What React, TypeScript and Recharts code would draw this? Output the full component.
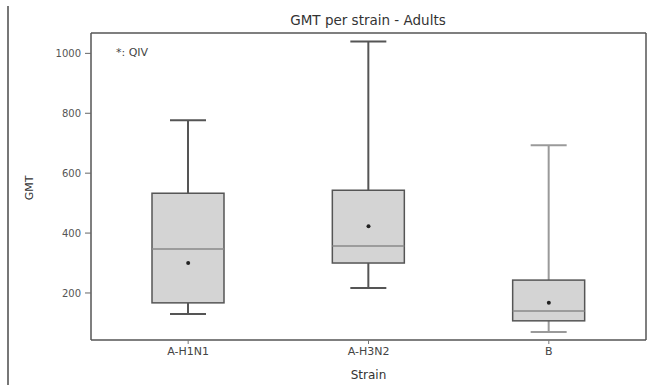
import React from 'react';
import { ComposedChart, Bar, XAxis, YAxis, Scatter } from 'recharts';

const strains = ['A-H1N1', 'A-H3N2', 'B'];
const whiskerLow = [130, 217, 70];
const q1 = [167, 300, 107];
const median = [347, 357, 140];
const q3 = [533, 543, 243];
const whiskerHigh = [777, 1040, 693];
const mean = [300, 423, 167];
const yTicks = [200, 400, 600, 800, 1000];

const whiskerColors = ['#555', '#555', '#9a9a9a'];
const FONT = '"DejaVu Sans", Verdana, sans-serif';

const data = strains.map((s, i) => ({
  strain: s,
  range: [whiskerLow[i], whiskerHigh[i]],
  lo: whiskerLow[i],
  hi: whiskerHigh[i],
  q1: q1[i],
  q3: q3[i],
  median: median[i],
  mean: mean[i],
  idx: i,
}));

const BoxShape = (props: any) => {
  const { x, y, width, height, payload } = props;
  if (payload == null) return null;
  const top = Math.min(y, y + height);
  const h = Math.abs(height);
  const k = h / (payload.hi - payload.lo);
  const py = (v: number) => top + (payload.hi - v) * k;
  const cx = x + width / 2;
  const capHalf = width / 4;
  const wc = whiskerColors[payload.idx];
  const yq3 = py(payload.q3);
  const yq1 = py(payload.q1);
  return (
    <g>
      <line x1={cx} x2={cx} y1={py(payload.hi)} y2={yq3} stroke={wc} strokeWidth={2} />
      <line x1={cx} x2={cx} y1={yq1} y2={py(payload.lo)} stroke={wc} strokeWidth={2} />
      <line x1={cx - capHalf} x2={cx + capHalf} y1={py(payload.hi)} y2={py(payload.hi)} stroke={wc} strokeWidth={2} />
      <line x1={cx - capHalf} x2={cx + capHalf} y1={py(payload.lo)} y2={py(payload.lo)} stroke={wc} strokeWidth={2} />
      <rect x={x} y={yq3} width={width} height={yq1 - yq3} fill="#d4d4d4" stroke="#555" strokeWidth={1.5} />
      <line x1={x} x2={x + width} y1={py(payload.median)} y2={py(payload.median)} stroke="#8a8a8a" strokeWidth={1.5} />
    </g>
  );
};

const MeanDot = (props: any) => {
  const { cx, cy } = props;
  return <circle cx={cx} cy={cy} r={2} fill="#222" />;
};

const NoShape = () => <g />;

export default function App() {
  return (
    <div style={{ position: 'absolute', left: 0, top: 0, width: 648, height: 385, background: '#fff', fontFamily: FONT }}>
      <div style={{ position: 'absolute', left: 7, top: 6, width: 2, height: 379, background: '#777' }} />
      <ComposedChart
        width={648}
        height={385}
        data={data}
        margin={{ top: 32, right: 1, bottom: 0, left: 0 }}
      >
        <XAxis
          dataKey="strain"
          height={45}
          padding={{ left: 7, right: 7 }}
          axisLine={{ stroke: '#555', strokeWidth: 1.5 }}
          tickLine={{ stroke: '#777' }}
          tickSize={4}
          tick={{ fontSize: 11, fill: '#444', fontFamily: FONT }}
          tickMargin={3}
        />
        <XAxis
          xAxisId="top"
          orientation="top"
          dataKey="strain"
          height={1}
          tick={false}
          tickLine={false}
          axisLine={{ stroke: '#555', strokeWidth: 1.5 }}
        />
        <YAxis
          type="number"
          domain={[43, 1068]}
          ticks={yTicks}
          allowDataOverflow
          width={91}
          axisLine={{ stroke: '#555', strokeWidth: 1.5 }}
          tickLine={{ stroke: '#666' }}
          tickSize={6}
          tickMargin={4}
          tick={{ fontSize: 10, fill: '#555', fontFamily: FONT }}
        />
        <YAxis
          yAxisId="right"
          orientation="right"
          type="number"
          domain={[43, 1068]}
          allowDataOverflow
          width={1}
          tick={false}
          tickLine={false}
          axisLine={{ stroke: '#555', strokeWidth: 1.5 }}
        />
        <Bar dataKey="range" barSize={72} shape={<BoxShape />} isAnimationActive={false} />
        <Scatter dataKey="mean" shape={<MeanDot />} isAnimationActive={false} />
        <Scatter xAxisId="top" yAxisId="right" dataKey="mean" shape={<NoShape />} isAnimationActive={false} />
      </ComposedChart>
      <div style={{ position: 'absolute', left: 0, width: 736, top: 11, lineHeight: '18px', textAlign: 'center', fontSize: 13.5, color: '#333' }}>
        GMT per strain - Adults
      </div>
      <div style={{ position: 'absolute', left: 116, top: 45, lineHeight: '16px', fontSize: 11, color: '#444' }}>*: QIV</div>
      <div style={{ position: 'absolute', left: 0, width: 737, top: 367, lineHeight: '17px', textAlign: 'center', fontSize: 12, color: '#333' }}>
        Strain
      </div>
      <div
        style={{
          position: 'absolute',
          left: 30,
          top: 188,
          fontSize: 11,
          lineHeight: '14px',
          color: '#333',
          transform: 'translate(-50%, -50%) rotate(-90deg)',
        }}
      >
        GMT
      </div>
    </div>
  );
}
